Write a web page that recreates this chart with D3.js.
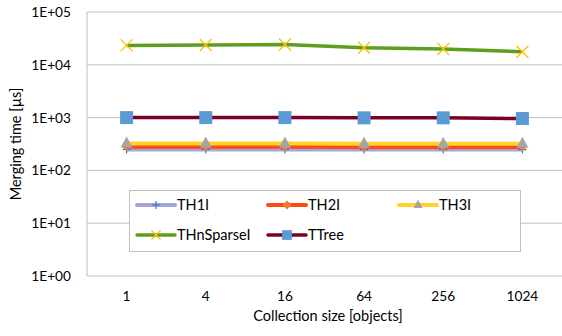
<!DOCTYPE html>
<html>
<head>
<meta charset="utf-8">
<script src="https://cdn.jsdelivr.net/npm/d3@7"></script>
<style>
  body { margin: 0; background: #fff; }
  svg text { font-family: Lato, "Open Sans", sans-serif; fill: #000; }
</style>
</head>
<body>
<div id="chart"></div>
<script>
// collection sizes on the x axis
const sizes = ["1", "4", "16", "64", "256", "1024"]
const yTicks = [1, 10, 100, 1000, 10000, 100000]

const th1i = [250, 250, 250, 248, 248, 248]
const th2i = [280, 280, 280, 278, 278, 278]
const th3i = [322, 322, 322, 320, 320, 320]
const thnSparse = [23300, 23800, 24200, 21000, 19900, 17700]
const ttree = [1000, 1000, 1000, 990, 990, 960]

const series = [
    { name: "TH1I", values: th1i, line: "#a3a6d8", marker: "plus", mcolor: "#4472c4", width: 4 },
    { name: "TH2I", values: th2i, line: "#ff4a12", marker: "diamond", mcolor: "#ed7d31", width: 4 },
    { name: "TH3I", values: th3i, line: "#ffd22a", marker: "triangle", mcolor: "#a5a5a5", width: 4 },
    { name: "THnSparseI", values: thnSparse, line: "#5c9e1e", marker: "x", mcolor: "#ffc000", width: 3.5 },
    { name: "TTree", values: ttree, line: "#7a0026", marker: "square", mcolor: "#5b9bd5", width: 3.5 }
]

const W = 562, H = 336
const m = { left: 87, right: 0, top: 12, bottom: 60 }

const svg = d3.select("#chart").append("svg")
    .attr("width", W).attr("height", H)

const x = d3.scaleBand().domain(sizes).range([m.left, W - m.right])
const y = d3.scaleLog().domain([1, 100000]).range([H - m.bottom, m.top])
const cx = d => x(d) + x.bandwidth() / 2

// gridlines
svg.append("g").selectAll("line").data(yTicks.slice(1)).join("line")
    .attr("x1", m.left).attr("x2", W)
    .attr("y1", d => y(d)).attr("y2", d => y(d))
    .attr("stroke", "#bfbfbf").attr("stroke-width", 1)

// axes lines
svg.append("line").attr("x1", m.left).attr("x2", m.left)
    .attr("y1", m.top).attr("y2", H - m.bottom)
    .attr("stroke", "#bfbfbf")
svg.append("line").attr("x1", m.left).attr("x2", W)
    .attr("y1", H - m.bottom).attr("y2", H - m.bottom)
    .attr("stroke", "#bfbfbf")

// y tick labels
svg.append("g").selectAll("text").data(yTicks).join("text")
    .attr("x", 71).attr("y", d => y(d) + 5)
    .attr("text-anchor", "end").attr("font-size", 13.7)
    .text(d => "1E+" + String(Math.round(Math.log10(d))).padStart(2, "0"))

// x tick labels
svg.append("g").selectAll("text").data(sizes).join("text")
    .attr("x", d => cx(d)).attr("y", 301)
    .attr("text-anchor", "middle").attr("font-size", 13.7)
    .text(d => d)

svg.append("text").attr("x", 328).attr("y", 321)
    .attr("text-anchor", "middle").attr("font-size", 14.5)
    .text("Collection size [objects]")

svg.append("text")
    .attr("transform", "translate(21,144) rotate(-90)")
    .attr("text-anchor", "middle").attr("font-size", 14.5)
    .text("Merging time [µs]")

function drawMarker(g, type, color, px, py, k) {
    if (type === "plus") {
        g.append("path").attr("d", `M${px - 4},${py}H${px + 4}M${px},${py - 4}V${py + 4}`)
            .attr("stroke", color).attr("stroke-width", 1.2)
    } else if (type === "diamond") {
        g.append("path").attr("d", `M${px},${py - 4.5}L${px + 4.5},${py}L${px},${py + 4.5}L${px - 4.5},${py}Z`)
            .attr("fill", color)
    } else if (type === "triangle") {
        g.append("path").attr("d", `M${px},${py - 7 * k}L${px + 6 * k},${py + 4 * k}L${px - 6 * k},${py + 4 * k}Z`)
            .attr("fill", color)
    } else if (type === "x") {
        const r = 6 * k
        g.append("path").attr("d", `M${px - r},${py - r}L${px + r},${py + r}M${px + r},${py - r}L${px - r},${py + r}`)
            .attr("stroke", color).attr("stroke-width", 1.3)
    } else if (type === "square") {
        const r = 6.5 * k
        g.append("rect").attr("x", px - r).attr("y", py - r)
            .attr("width", 2 * r).attr("height", 2 * r).attr("fill", color)
    }
}

const line = d3.line().x((d, i) => cx(sizes[i])).y(d => y(d))

series.forEach(s => {
    const g = svg.append("g")
    g.append("path").datum(s.values).attr("d", line)
        .attr("fill", "none").attr("stroke", s.line)
        .attr("stroke-width", s.width).attr("stroke-linejoin", "round")
    s.values.forEach((v, i) => drawMarker(g, s.marker, s.mcolor, cx(sizes[i]), y(v), 1))
})

// legend
const lg = svg.append("g")
lg.append("rect").attr("x", 129.5).attr("y", 190.5).attr("width", 391).attr("height", 61)
    .attr("fill", "#fff").attr("stroke", "#bfbfbf")
const cols = [137, 268, 399]
series.forEach((s, i) => {
    const lx = cols[i % 3], ly = i < 3 ? 205 : 235
    lg.append("line").attr("x1", lx).attr("x2", lx + 38).attr("y1", ly).attr("y2", ly)
        .attr("stroke", s.line).attr("stroke-width", s.width).attr("stroke-linecap", "round")
    drawMarker(lg, s.marker, s.mcolor, lx + 19, ly, 0.75)
    lg.append("text").attr("x", lx + 40).attr("y", ly + 5)
        .attr("font-size", 14.5).text(s.name)
})
</script>
</body>
</html>
